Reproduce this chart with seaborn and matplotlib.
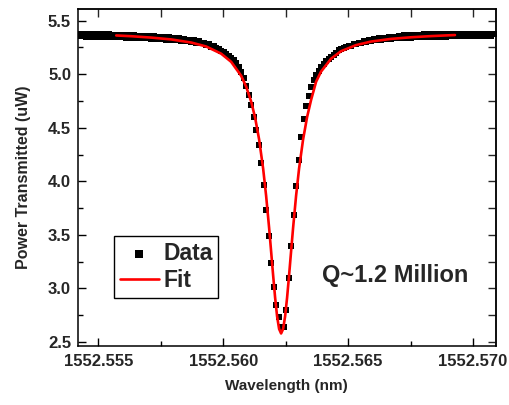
import numpy as np
import pandas as pd
import matplotlib
matplotlib.use("Agg")
import matplotlib.pyplot as plt
import seaborn as sns
from matplotlib.ticker import MultipleLocator, FormatStrFormatter

# ---------------- data ----------------
data_wl = [
    1552.55423, 1552.55433, 1552.55443, 1552.55453, 1552.55463, 1552.55473, 1552.55483, 1552.55493, 1552.55503, 1552.55513,
    1552.55523, 1552.55533, 1552.55543, 1552.55553, 1552.55563, 1552.55573, 1552.55583, 1552.55593, 1552.55603, 1552.55613,
    1552.55623, 1552.55633, 1552.55643, 1552.55653, 1552.55663, 1552.55673, 1552.55683, 1552.55693, 1552.55703, 1552.55713,
    1552.55723, 1552.55733, 1552.55743, 1552.55753, 1552.55763, 1552.55773, 1552.55783, 1552.55793, 1552.55803, 1552.55813,
    1552.55823, 1552.55833, 1552.55843, 1552.55853, 1552.55863, 1552.55873, 1552.55883, 1552.55893, 1552.55903, 1552.55913,
    1552.55923, 1552.55933, 1552.55943, 1552.55953, 1552.55963, 1552.55973, 1552.55983, 1552.55993, 1552.56003, 1552.56013,
    1552.56023, 1552.56033, 1552.56043, 1552.56053, 1552.56063, 1552.56073, 1552.56083, 1552.56093, 1552.56103, 1552.56113,
    1552.56123, 1552.56133, 1552.56143, 1552.56153, 1552.56163, 1552.56173, 1552.56183, 1552.56193, 1552.56203, 1552.56213,
    1552.56223, 1552.56233, 1552.56243, 1552.56253, 1552.56263, 1552.56273, 1552.56283, 1552.56293, 1552.56303, 1552.56313,
    1552.56323, 1552.56333, 1552.56343, 1552.56353, 1552.56363, 1552.56373, 1552.56383, 1552.56393, 1552.56403, 1552.56413,
    1552.56423, 1552.56433, 1552.56443, 1552.56453, 1552.56463, 1552.56473, 1552.56483, 1552.56493, 1552.56503, 1552.56513,
    1552.56523, 1552.56533, 1552.56543, 1552.56553, 1552.56563, 1552.56573, 1552.56583, 1552.56593, 1552.56603, 1552.56613,
    1552.56623, 1552.56633, 1552.56643, 1552.56653, 1552.56663, 1552.56673, 1552.56683, 1552.56693, 1552.56703, 1552.56713,
    1552.56723, 1552.56733, 1552.56743, 1552.56753, 1552.56763, 1552.56773, 1552.56783, 1552.56793, 1552.56803, 1552.56813,
    1552.56823, 1552.56833, 1552.56843, 1552.56853, 1552.56863, 1552.56873, 1552.56883, 1552.56893, 1552.56903, 1552.56913,
    1552.56923, 1552.56933, 1552.56943, 1552.56953, 1552.56963, 1552.56973, 1552.56983, 1552.56993, 1552.57003, 1552.57013,
    1552.57023, 1552.57033, 1552.57043, 1552.57053, 1552.57063, 1552.57073, 1552.57083,
]
data_power = [
    5.377, 5.353, 5.376, 5.352, 5.376, 5.352, 5.375, 5.350, 5.374, 5.349,
    5.372, 5.347, 5.371, 5.346, 5.369, 5.345, 5.368, 5.343, 5.366, 5.342,
    5.365, 5.340, 5.363, 5.338, 5.361, 5.336, 5.359, 5.334, 5.357, 5.332,
    5.355, 5.330, 5.352, 5.327, 5.349, 5.324, 5.346, 5.320, 5.342, 5.316,
    5.338, 5.314, 5.330, 5.309, 5.324, 5.303, 5.317, 5.294, 5.308, 5.287,
    5.293, 5.274, 5.278, 5.258, 5.261, 5.242, 5.238, 5.219, 5.208, 5.191,
    5.172, 5.152, 5.129, 5.101, 5.066, 5.021, 4.964, 4.894, 4.809, 4.709,
    4.597, 4.477, 4.342, 4.172, 3.962, 3.732, 3.487, 3.237, 3.017, 2.842,
    2.737, 2.640, 2.645, 2.800, 3.100, 3.400, 3.690, 3.960, 4.200, 4.410,
    4.580, 4.700, 4.800, 4.885, 4.945, 4.990, 5.030, 5.065, 5.095, 5.120,
    5.146, 5.160, 5.183, 5.197, 5.225, 5.231, 5.248, 5.251, 5.266, 5.268,
    5.284, 5.278, 5.296, 5.290, 5.308, 5.301, 5.318, 5.310, 5.326, 5.318,
    5.336, 5.321, 5.342, 5.327, 5.347, 5.332, 5.352, 5.336, 5.356, 5.340,
    5.362, 5.339, 5.364, 5.341, 5.366, 5.344, 5.369, 5.346, 5.371, 5.347,
    5.372, 5.349, 5.373, 5.350, 5.374, 5.351, 5.375, 5.352, 5.376, 5.353,
    5.377, 5.354, 5.378, 5.355, 5.379, 5.355, 5.379, 5.356, 5.380, 5.356,
    5.380, 5.356, 5.380, 5.356, 5.380, 5.356, 5.380,
]

fit_wl = [
    1552.55572, 1552.55632, 1552.55712, 1552.55792, 1552.55872, 1552.55932, 1552.55992,
    1552.56032, 1552.56072, 1552.56092, 1552.56112, 1552.56128, 1552.56144, 1552.56160,
    1552.56172, 1552.56184, 1552.56192, 1552.56200, 1552.56208, 1552.56216, 1552.56224,
    1552.56232,
    1552.56240, 1552.56248, 1552.56256, 1552.56264, 1552.56272, 1552.56280, 1552.56292,
    1552.56304, 1552.56320, 1552.56336, 1552.56352, 1552.56372, 1552.56392, 1552.56432,
    1552.56472, 1552.56532, 1552.56592, 1552.56672, 1552.56752, 1552.56832, 1552.56928,
]
fit_power = [
    5.362, 5.355, 5.342, 5.325, 5.296, 5.259, 5.192,
    5.116, 4.986, 4.885, 4.746, 4.594, 4.391, 4.121,
    3.866, 3.566, 3.347, 3.125, 2.915, 2.739, 2.622,
    2.580,
    2.622, 2.739, 2.915, 3.125, 3.347, 3.566, 3.866,
    4.121, 4.391, 4.600, 4.760, 4.930, 5.025, 5.145,
    5.215, 5.272, 5.305, 5.330, 5.345, 5.356, 5.366,
]

x_ticks = [1552.555, 1552.560, 1552.565, 1552.570]
y_ticks = [2.5, 3.0, 3.5, 4.0, 4.5, 5.0, 5.5]
annotation = "Q~1.2 Million"

# ---------------- style ----------------
sns.set_style("ticks")
plt.rcParams["font.family"] = ["Liberation Sans", "DejaVu Sans"]
plt.rcParams["font.weight"] = "bold"
plt.rcParams["axes.labelweight"] = "bold"

fig = plt.figure(figsize=(5.09, 4.05), dpi=100)
ax = fig.add_axes([78 / 509, 1 - 346 / 405, 417.7 / 509, 337 / 405])

df_data = pd.DataFrame({"wl": data_wl, "p": data_power})
df_fit = pd.DataFrame({"wl": fit_wl, "p": fit_power})

sns.scatterplot(data=df_data, x="wl", y="p", ax=ax, marker="s", s=24,
                color="black", linewidth=0, label="Data", zorder=2)
sns.lineplot(data=df_fit, x="wl", y="p", ax=ax, color="#ff0000",
             linewidth=1.9, label="Fit", zorder=3, sort=False)

ax.set_xlim(1552.55419, 1552.57091)
ax.set_ylim(2.463, 5.609)

ax.set_xticks(x_ticks)
ax.xaxis.set_major_formatter(FormatStrFormatter("%.3f"))
ax.xaxis.set_minor_locator(MultipleLocator(0.0025))
ax.set_yticks(y_ticks)
ax.yaxis.set_major_formatter(FormatStrFormatter("%.1f"))
ax.yaxis.set_minor_locator(MultipleLocator(0.25))

ax.tick_params(which="major", direction="in", length=6, width=1.0,
               labelsize=12, top=False, right=False, color="black")
ax.tick_params(which="minor", direction="in", length=3.5, width=1.0,
               top=False, right=False, color="black")
ax.tick_params(axis="x", pad=6)
ax.tick_params(axis="y", pad=5)
for lab in ax.get_xticklabels() + ax.get_yticklabels():
    lab.set_fontweight("bold")

for sp in ax.spines.values():
    sp.set_visible(True)
    sp.set_linewidth(1.1)
    sp.set_color("black")

# top / right ticks at every major+minor position, same length
secx = ax.secondary_xaxis("top")
secx.set_xticks([1552.555, 1552.5575, 1552.560, 1552.5625, 1552.565, 1552.5675, 1552.570])
secx.tick_params(direction="in", length=6, width=1.0, labeltop=False)
secx.spines["top"].set_linewidth(1.1)
secy = ax.secondary_yaxis("right")
secy.set_yticks([2.5, 2.75, 3.0, 3.25, 3.5, 3.75, 4.0, 4.25, 4.5, 4.75, 5.0, 5.25, 5.5])
secy.tick_params(direction="in", length=6, width=1.0, labelright=False)
secy.spines["right"].set_linewidth(1.1)

ax.set_xlabel("Wavelength (nm)", fontsize=11, fontweight="bold", labelpad=7)
ax.set_ylabel("Power Transmitted (uW)", fontsize=11.5, fontweight="bold", labelpad=12)

ax.text(1552.5669, 3.12, annotation, fontsize=17, fontweight="bold",
        ha="center", va="center")

leg = ax.legend(loc="upper left", bbox_to_anchor=(0.0862, 0.326),
                prop={"size": 16.5, "weight": "bold"}, frameon=True,
                fancybox=False, shadow=False, borderpad=0.25,
                labelspacing=0.2, handlelength=1.7, handletextpad=0.2,
                borderaxespad=0.0, markerscale=1.1)
leg.get_frame().set_edgecolor("black")
leg.get_frame().set_linewidth(1.0)
leg.get_frame().set_alpha(1)

fig.savefig("out.png", dpi=100)
